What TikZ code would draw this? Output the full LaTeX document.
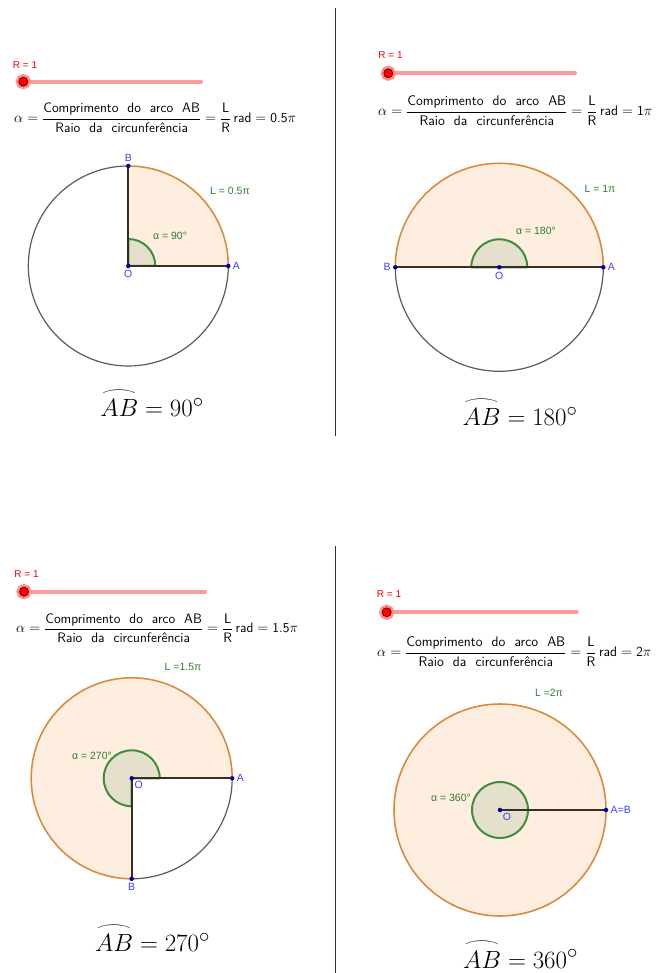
\documentclass[tikz,border=0pt]{standalone}
\usepackage{amsmath}
\usepackage{graphicx}
\usepackage{fontspec}
\newfontfamily\ggbfont{Liberation Sans}
\usetikzlibrary{positioning}
\definecolor{peach}{HTML}{FDEEE0}
\definecolor{arccolor}{HTML}{D98C3F}
\definecolor{circlecolor}{HTML}{5A5A5A}
\definecolor{radiuscolor}{HTML}{3A2E22}
\definecolor{anglefill}{HTML}{E5E0CC}
\definecolor{angleedge}{HTML}{3E8E3E}
\definecolor{labelgreen}{HTML}{2E7D32}
\definecolor{pointblue}{HTML}{0000AA}
\definecolor{labelblue}{HTML}{4040FF}
\definecolor{trackcolor}{HTML}{FF9A9A}
\definecolor{halocolor}{HTML}{FF8C8C}
\newcommand{\arcovermark}{\scalebox{1.5}[0.6]{$\frown$}}
\pgfdeclarelayer{background}
\pgfsetlayers{background,main}

\begin{document}
\begin{tikzpicture}[
  x=1pt,y=1pt,
  ptdot/.style={circle,fill=pointblue,inner sep=0pt,minimum size=4.5pt,on grid},
  ptlabel/.style={text=labelblue,font=\ggbfont\fontsize{10.5}{12}\selectfont,inner sep=1pt},
  rlabel/.style={text=red,font=\ggbfont\fontsize{10}{12}\selectfont,inner sep=0pt},
  glabel/.style={text=labelgreen,font=\ggbfont\fontsize{10.5}{12}\selectfont,inner sep=0pt},
  knob/.style={circle,fill=red,draw=red!40!black,line width=0.8pt,minimum size=9pt,inner sep=0pt,preaction={draw=halocolor,line width=6pt}},
  track/.style={draw=trackcolor,line width=4pt,line cap=round},
  formula/.style={anchor=west,inner sep=0pt,font=\fontsize{#1}{16}\selectfont},
  arcsector/.style={fill=peach},
  arcline/.style={draw=arccolor,line width=1.6pt},
  restarc/.style={draw=circlecolor,line width=1.2pt},
  radline/.style={draw=radiuscolor,line width=2pt},
  angmark/.style={fill=anglefill,draw=angleedge,line width=2pt,line join=round},
  arcresult/.style={anchor=base,inner sep=0pt,font=\fontsize{28}{32}\selectfont},
  divider/.style={draw=black!80,line width=1pt}
]
\useasboundingbox (0,0) rectangle (657,973);

\coordinate (divTopA) at (335,965);
\coordinate (divTopB) at (335,537);
\coordinate (divBotA) at (335,427);
\coordinate (divBotB) at (335,0);
\draw[divider] (divTopA) -- (divTopB);
\draw[divider] (divBotA) -- (divBotB);

% 90 degrees
\node[rlabel] (tlR) at (25,908) {R = 1};
\node[knob] (tlKnob) at (23.3,891.3) {};
\coordinate (tlEnd) at (201,891.3);
\node[formula=13.7] (tlFormula) at (14,855) {$\alpha=\dfrac{\textsf{Comprimento\ \ do\ \ arco\ \ AB}}{\textsf{Raio\ \ da\ \ circunferência}}=\dfrac{\textsf{L}}{\textsf{R}}\,\textsf{rad}=\textsf{0.5}\pi$};
\node[ptdot] (tlO) at (128.3,707) {};
\node[ptdot,right=100pt of tlO] (tlA) {};
\node[ptdot,above=100pt of tlO] (tlB) {};
\node[ptlabel,right=1pt of tlA] (tlAl) {A};
\node[ptlabel,above=1pt of tlB] (tlBl) {B};
\node[ptlabel,below=1pt of tlO] (tlOl) {O};
\node[glabel] (tlL) at (230,782) {L = 0.5π};
\node[glabel] (tlAng) at (170,737) {α = 90°};
\node[arcresult] (tlResult) at (152,556) {$\overset{\arcovermark}{AB}=90^\circ$};

% 180 degrees
\node[rlabel] (trR) at (390.5,918) {R = 1};
\node[knob] (trKnob) at (388.3,899.7) {};
\coordinate (trEnd) at (575,899.7);
\node[formula=13.9] (trFormula) at (378,862.3) {$\alpha=\dfrac{\textsf{Comprimento\ \ do\ \ arco\ \ AB}}{\textsf{Raio\ \ da\ \ circunferência}}=\dfrac{\textsf{L}}{\textsf{R}}\,\textsf{rad}=\textsf{1}\pi$};
\node[ptdot] (trO) at (499.3,705.7) {};
\node[ptdot,right=104pt of trO] (trA) {};
\node[ptdot,left=104pt of trO] (trB) {};
\node[ptlabel,right=1pt of trA] (trAl) {A};
\node[ptlabel,left=1pt of trB] (trBl) {B};
\node[ptlabel,below=1pt of trO] (trOl) {O};
\node[glabel] (trL) at (600,784) {L = 1π};
\node[glabel] (trAng) at (536,742) {α = 180°};
\node[arcresult] (trResult) at (520,547) {$\overset{\arcovermark}{AB}=180^\circ$};

% 270 degrees
\node[rlabel] (blR) at (26.5,399) {R = 1};
\node[knob] (blKnob) at (24,381.3) {};
\coordinate (blEnd) at (205,381.3);
\node[formula=13.7] (blFormula) at (16,344.7) {$\alpha=\dfrac{\textsf{Comprimento\ \ do\ \ arco\ \ AB}}{\textsf{Raio\ \ da\ \ circunferência}}=\dfrac{\textsf{L}}{\textsf{R}}\,\textsf{rad}=\textsf{1.5}\pi$};
\node[ptdot] (blO) at (131.7,194.7) {};
\node[ptdot,right=100.5pt of blO] (blA) {};
\node[ptdot,below=100.5pt of blO] (blB) {};
\node[ptlabel,right=1pt of blA] (blAl) {A};
\node[ptlabel,below=1pt of blB] (blBl) {B};
\node[ptlabel,below right=0pt and 0pt of blO] (blOl) {O};
\node[glabel] (blL) at (183,306) {L =1.5π};
\node[glabel] (blAng) at (92,217) {α = 270°};
\node[arcresult] (blResult) at (152.5,21) {$\overset{\arcovermark}{AB}=270^\circ$};

% 360 degrees
\node[rlabel] (brR) at (389,379) {R = 1};
\node[knob] (brKnob) at (386.7,360.7) {};
\coordinate (brEnd) at (576.7,360.7);
\node[formula=13.9] (brFormula) at (377,321.3) {$\alpha=\dfrac{\textsf{Comprimento\ \ do\ \ arco\ \ AB}}{\textsf{Raio\ \ da\ \ circunferência}}=\dfrac{\textsf{L}}{\textsf{R}}\,\textsf{rad}=\textsf{2}\pi$};
\node[ptdot] (brO) at (500,163) {};
\node[ptdot,right=106pt of brO] (brA) {};
\node[ptlabel,right=1pt of brA] (brAl) {A=B};
\node[ptlabel,below right=0pt and 0pt of brO] (brOl) {O};
\node[glabel] (brL) at (549,280) {L =2π};
\node[glabel] (brAng) at (451,175) {α = 360°};
\node[arcresult] (brResult) at (520.5,5) {$\overset{\arcovermark}{AB}=360^\circ$};

\begin{pgfonlayer}{background}
\draw[track] (tlKnob.center) -- (tlEnd);
\draw[track] (trKnob.center) -- (trEnd);
\draw[track] (blKnob.center) -- (blEnd);
\draw[track] (brKnob.center) -- (brEnd);

\fill[arcsector] (tlO.center) -- (tlA.center) arc[start angle=0,end angle=90,radius=100] -- cycle;
\draw[restarc] (tlA.center) arc[start angle=0,end angle=-270,radius=100];
\draw[arcline] (tlA.center) arc[start angle=0,end angle=90,radius=100];
\draw[angmark] (tlO.center) -- ++(0:27) arc[start angle=0,end angle=90,radius=27] -- cycle;
\draw[radline] (tlO.center) -- (tlA.center);
\draw[radline] (tlO.center) -- (tlB.center);

\fill[arcsector] (trO.center) -- (trA.center) arc[start angle=0,end angle=180,radius=104] -- cycle;
\draw[restarc] (trA.center) arc[start angle=0,end angle=-180,radius=104];
\draw[arcline] (trA.center) arc[start angle=0,end angle=180,radius=104];
\draw[angmark] (trO.center) -- ++(0:28) arc[start angle=0,end angle=180,radius=28] -- cycle;
\draw[radline] (trB.center) -- (trA.center);

\fill[arcsector] (blO.center) -- (blA.center) arc[start angle=0,end angle=270,radius=100.5] -- cycle;
\draw[restarc] (blA.center) arc[start angle=0,end angle=-90,radius=100.5];
\draw[arcline] (blA.center) arc[start angle=0,end angle=270,radius=100.5];
\draw[angmark] (blO.center) -- ++(0:28) arc[start angle=0,end angle=270,radius=28] -- cycle;
\draw[radline] (blO.center) -- (blA.center);
\draw[radline] (blO.center) -- (blB.center);

\fill[arcsector] (brO.center) circle[radius=106];
\draw[arcline] (brO.center) circle[radius=106];
\draw[angmark] (brO.center) circle[radius=28];
\draw[radline] (brO.center) -- (brA.center);
\end{pgfonlayer}
\end{tikzpicture}
\end{document}
